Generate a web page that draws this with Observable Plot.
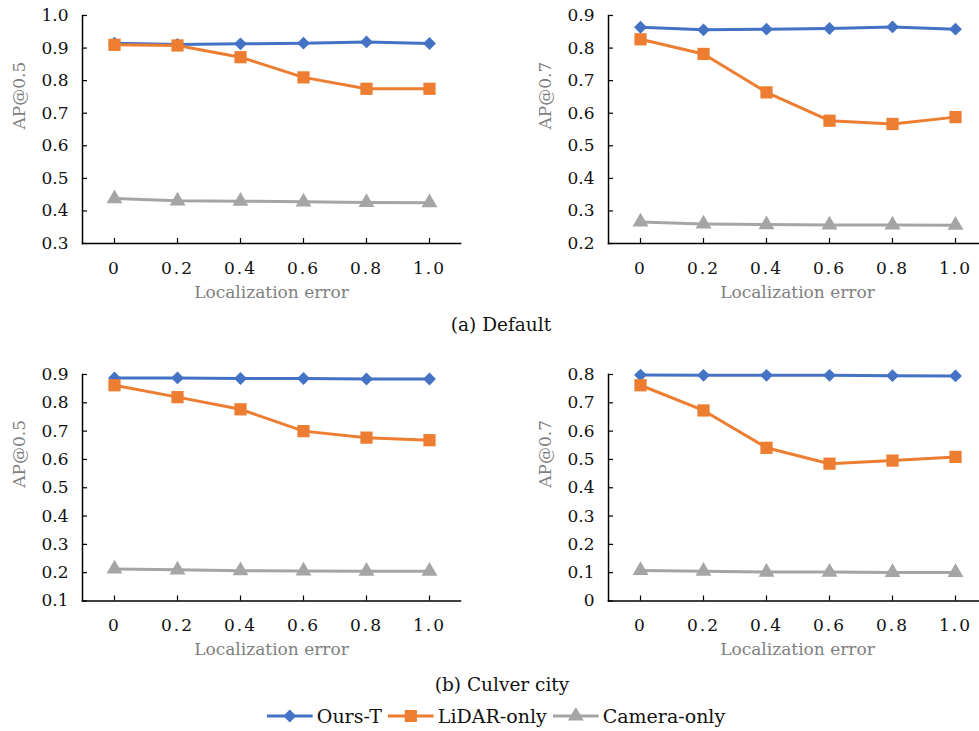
<!DOCTYPE html>
<html><head><meta charset="utf-8">
<script src="https://cdn.jsdelivr.net/npm/d3@7"></script>
<script src="https://cdn.jsdelivr.net/npm/@observablehq/plot@0.6"></script>
<style>
html,body{margin:0;padding:0;background:#fff;overflow:hidden;}
#root{position:relative;width:979px;height:731px;overflow:hidden;font-family:"DejaVu Serif",serif;background:#fff;}
.panel{position:absolute;width:490px;height:310px;}
.panel svg{max-width:none !important;width:490px;height:310px;}
.caption{position:absolute;text-align:center;font-size:18.5px;color:#111;line-height:22px;white-space:nowrap;transform:translate(-50%,-50%);}
#legend{position:absolute;display:flex;align-items:center;font-size:19px;color:#111;white-space:nowrap;transform:translate(-50%,-50%);}
#legend .item{display:flex;align-items:center;margin-right:6px;}
#legend svg{margin-right:4px;}
svg [aria-label="x-axis tick label"] text{letter-spacing:2px;}
</style></head><body><div id="root"></div>
<script>
// ---------- data ----------
const xLabels = ["0", "0.2", "0.4", "0.6", "0.8", "1.0"];
const seriesNames = ["Ours-T", "LiDAR-only", "Camera-only"];
const seriesColors = ["#4472C4", "#ED7D31", "#A5A5A5"];
const seriesSymbols = ["diamond2", "square", "triangle"];

// (a) Default, AP@0.5
const defaultOurs50   = [0.915, 0.911, 0.913, 0.915, 0.919, 0.914];
const defaultLidar50  = [0.910, 0.908, 0.872, 0.810, 0.775, 0.775];
const defaultCamera50 = [0.438, 0.431, 0.430, 0.428, 0.426, 0.425];
// (a) Default, AP@0.7
const defaultOurs70   = [0.864, 0.856, 0.858, 0.860, 0.865, 0.858];
const defaultLidar70  = [0.827, 0.782, 0.664, 0.577, 0.567, 0.588];
const defaultCamera70 = [0.266, 0.260, 0.258, 0.257, 0.257, 0.256];
// (b) Culver city, AP@0.5
const culverOurs50   = [0.888, 0.888, 0.886, 0.886, 0.884, 0.884];
const culverLidar50  = [0.862, 0.820, 0.777, 0.700, 0.677, 0.668];
const culverCamera50 = [0.213, 0.210, 0.207, 0.206, 0.205, 0.205];
// (b) Culver city, AP@0.7
const culverOurs70   = [0.798, 0.797, 0.797, 0.797, 0.796, 0.795];
const culverLidar70  = [0.762, 0.673, 0.541, 0.485, 0.496, 0.509];
const culverCamera70 = [0.108, 0.105, 0.102, 0.102, 0.101, 0.101];

const yTicksDefault50 = [0.3, 0.4, 0.5, 0.6, 0.7, 0.8, 0.9, 1.0];
const yTicksDefault70 = [0.2, 0.3, 0.4, 0.5, 0.6, 0.7, 0.8, 0.9];
const yTicksCulver50  = [0.1, 0.2, 0.3, 0.4, 0.5, 0.6, 0.7, 0.8, 0.9];
const yTicksCulver70  = [0, 0.1, 0.2, 0.3, 0.4, 0.5, 0.6, 0.7, 0.8];

const xTitle = "Localization error";
const captions = ["(a) Default", "(b) Culver city"];

// ---------- drawing ----------
const root = document.getElementById("root");
const fmt = d => d === 0 ? "0" : d.toFixed(1);
const symbolR = [5.8, 6.9, 5.9];

function makePanel({values, yTicks, yLabel, left, top, marginBottom}) {
  const marks = [];
  seriesNames.forEach((name, k) => {
    const rows = values[k].map((v, i) => ({series: name, x: xLabels[i], y: v}));
    marks.push(Plot.line(rows, {x: "x", y: "y", stroke: seriesColors[k], strokeWidth: 3}));
    marks.push(Plot.dot(rows, {x: "x", y: "y", symbol: seriesSymbols[k], fill: seriesColors[k], r: symbolR[k], stroke: "none"}));
  });
  marks.push(Plot.frame({anchor: "left", strokeWidth: 1.5, stroke: "#000"}));
  marks.push(Plot.frame({anchor: "bottom", strokeWidth: 1.5, stroke: "#000"}));
  marks.push(Plot.axisX({tickSize: -5, tickPadding: 23, label: null, fill: "#111", stroke: "#000", strokeWidth: 1.2}));
  marks.push(Plot.axisY({ticks: yTicks, tickFormat: fmt, tickSize: -5, tickPadding: 19, label: null, fill: "#111", stroke: "#000", strokeWidth: 1.2}));
  marks.push(Plot.text([xTitle], {frameAnchor: "bottom", dy: 54, fill: "#7f7f7f", fontSize: 17}));
  marks.push(Plot.text([yLabel], {frameAnchor: "left", rotate: -90, dx: -62.5, fill: "#7f7f7f", fontSize: 17}));
  const chart = Plot.plot({
    width: 490,
    height: 310,
    marginLeft: 82,
    marginRight: 30,
    marginTop: 15,
    marginBottom: marginBottom,
    x: {type: "point", domain: xLabels, padding: 0.5},
    y: {domain: [yTicks[0], yTicks[yTicks.length - 1]]},
    style: {fontFamily: "DejaVu Serif, serif", fontSize: "17px", color: "#111", background: "transparent", overflow: "visible", maxWidth: "none"},
    marks
  });
  const div = document.createElement("div");
  div.className = "panel";
  div.style.left = left + "px";
  div.style.top = top + "px";
  div.appendChild(chart);
  root.appendChild(div);
}

makePanel({values: [defaultOurs50, defaultLidar50, defaultCamera50], yTicks: yTicksDefault50, yLabel: "AP@0.5", left: 0, top: 0, marginBottom: 67});
makePanel({values: [defaultOurs70, defaultLidar70, defaultCamera70], yTicks: yTicksDefault70, yLabel: "AP@0.7", left: 526, top: 0, marginBottom: 67});
makePanel({values: [culverOurs50, culverLidar50, culverCamera50], yTicks: yTicksCulver50, yLabel: "AP@0.5", left: 0, top: 359, marginBottom: 68.5});
makePanel({values: [culverOurs70, culverLidar70, culverCamera70], yTicks: yTicksCulver70, yLabel: "AP@0.7", left: 526, top: 359, marginBottom: 68.5});

// captions
[[captions[0], 501, 325], [captions[1], 502, 685]].forEach(([t, cx, cy]) => {
  const c = document.createElement("div");
  c.className = "caption";
  c.style.left = cx + "px";
  c.style.top = cy + "px";
  c.textContent = t;
  root.appendChild(c);
});

// legend
const legend = document.createElement("div");
legend.id = "legend";
legend.style.left = "499px";
legend.style.top = "716px";
const symMap = {diamond2: d3.symbolDiamond2, square: d3.symbolSquare, triangle: d3.symbolTriangle};
seriesNames.forEach((name, k) => {
  const item = document.createElement("div");
  item.className = "item";
  const svg = d3.create("svg").attr("width", 46).attr("height", 16);
  svg.append("line").attr("x1", 0).attr("x2", 46).attr("y1", 8).attr("y2", 8)
    .attr("stroke", seriesColors[k]).attr("stroke-width", 3);
  svg.append("path").attr("transform", "translate(23,8)")
    .attr("d", d3.symbol(symMap[seriesSymbols[k]], Math.PI * symbolR[k] * symbolR[k])())
    .attr("fill", seriesColors[k]);
  item.appendChild(svg.node());
  const span = document.createElement("span");
  span.textContent = name;
  item.appendChild(span);
  legend.appendChild(item);
});
root.appendChild(legend);
</script>
</body></html>
